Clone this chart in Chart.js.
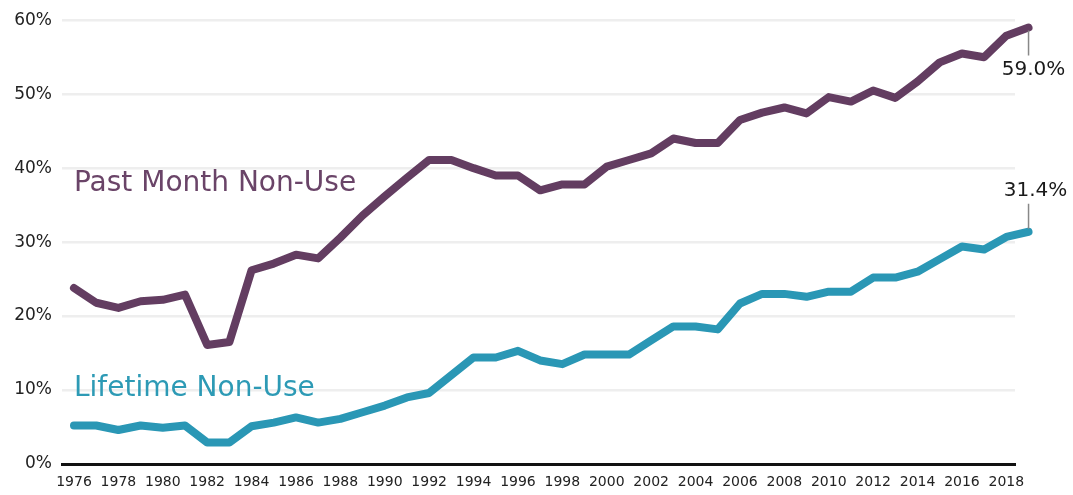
<!DOCTYPE html>
<html>
<head>
<meta charset="utf-8">
<script src="https://cdn.jsdelivr.net/npm/chart.js@4"></script>
<style>
  html, body { margin: 0; padding: 0; background: #fff; }
  #wrap { width: 1073px; height: 495px; }
</style>
</head>
<body>
<div id="wrap"><canvas id="chart" width="1073" height="495"></canvas></div>
<script>
const years = [];
for (let y = 1976; y <= 2019; y++) years.push(y);

const pastMonth = [23.8, 21.8, 21.1, 22.0, 22.2, 22.9, 16.1, 16.5, 26.2, 27.1, 28.3, 27.8,
    30.6, 33.6, 36.2, 38.7, 41.1, 41.1, 40.0, 39.0, 39.0, 37.0, 37.8, 37.8,
    40.2, 41.1, 42.0, 44.0, 43.4, 43.4, 46.5, 47.5, 48.2, 47.4, 49.6, 49.0,
    50.5, 49.5, 51.7, 54.3, 55.5, 55.0, 57.9, 59.0];

const lifetime = [5.2, 5.2, 4.6, 5.2, 4.9, 5.2, 2.9, 2.9, 5.1, 5.6, 6.3, 5.6,
    6.1, 7.0, 7.9, 9.0, 9.6, 12.0, 14.4, 14.4, 15.3, 14.0, 13.5, 14.8,
    14.8, 14.8, 16.7, 18.6, 18.6, 18.2, 21.7, 23.0, 23.0, 22.6, 23.3, 23.3,
    25.2, 25.2, 26.0, 27.7, 29.4, 29.0, 30.7, 31.4];

const yTicks = [0, 10, 20, 30, 40, 50, 60];
const xTicks = years.filter(y => y % 2 === 0 && y <= 2018);

const purple = '#633d61';
const teal = '#2a97b5';
const font = '"DejaVu Sans", sans-serif';

// etiquetas de las series y valores finales
const labelsPlugin = {
    id: 'labelsPlugin',
    afterDatasetsDraw(chart) {
        const ctx = chart.ctx;
        const xs = chart.scales.x, ys = chart.scales.y;
        ctx.save();
        ctx.textBaseline = 'middle';
        ctx.textAlign = 'left';
        ctx.font = '28px ' + font;
        ctx.fillStyle = '#6a4468';
        ctx.fillText('Past Month Non-Use', xs.getPixelForValue(1976), ys.getPixelForValue(37.9));
        ctx.fillStyle = '#2d9ab5';
        ctx.fillText('Lifetime Non-Use', xs.getPixelForValue(1976), ys.getPixelForValue(10.2));

        const last = years.length - 1;
        const px = xs.getPixelForValue(years[last]);
        const p1 = ys.getPixelForValue(pastMonth[last]);
        const p2 = ys.getPixelForValue(lifetime[last]);
        ctx.strokeStyle = '#888';
        ctx.lineWidth = 1.5;
        ctx.beginPath();
        ctx.moveTo(px, p1 + 3); ctx.lineTo(px, p1 + 28);
        ctx.moveTo(px, p2 - 3); ctx.lineTo(px, p2 - 28);
        ctx.stroke();
        ctx.fillStyle = '#1a1a1a';
        ctx.textAlign = 'center';
        ctx.font = '20px ' + font;
        ctx.fillText(pastMonth[last].toFixed(1) + '%', px + 5, p1 + 42);
        ctx.fillText(lifetime[last].toFixed(1) + '%', px + 7, p2 - 41);
        ctx.restore();
    }
};

new Chart(document.getElementById('chart'), {
    type: 'line',
    data: {
        datasets: [{
            label: 'Past Month Non-Use',
            data: years.map((y, i) => ({x: y, y: pastMonth[i]})),
            borderColor: purple,
            borderWidth: 8,
            borderCapStyle: 'round',
            borderJoinStyle: 'round',
            pointRadius: 0,
            tension: 0,
            clip: false
        }, {
            label: 'Lifetime Non-Use',
            data: years.map((y, i) => ({x: y, y: lifetime[i]})),
            borderColor: teal,
            borderWidth: 8,
            borderCapStyle: 'round',
            borderJoinStyle: 'round',
            pointRadius: 0,
            tension: 0,
            clip: false
        }]
    },
    options: {
        responsive: false,
        animation: false,
        layout: { padding: { top: 16, right: 58, left: 0, bottom: 0 } },
        plugins: { legend: { display: false }, tooltip: { enabled: false } },
        scales: {
            x: {
                type: 'linear',
                min: 1975.46,
                max: 2018.39,
                afterBuildTicks: axis => { axis.ticks = xTicks.map(v => ({value: v})); },
                afterFit: axis => { axis.height = 31; },
                grid: { display: false, drawTicks: false },
                border: { display: true, color: '#111', width: 3 },
                ticks: {
                    color: '#222',
                    font: { family: font, size: 14 },
                    padding: 10,
                    maxRotation: 0,
                    autoSkip: false,
                    callback: v => String(v)
                }
            },
            y: {
                min: 0,
                max: 60,
                afterBuildTicks: axis => { axis.ticks = yTicks.map(v => ({value: v})); },
                afterFit: axis => { axis.width = 62; },
                grid: { color: '#eeeeee', lineWidth: 2.5, drawTicks: false },
                border: { display: false },
                ticks: {
                    color: '#222',
                    font: { family: font, size: 17 },
                    padding: 10,
                    callback: v => v + '%'
                }
            }
        }
    },
    plugins: [labelsPlugin]
});
</script>
</body>
</html>
